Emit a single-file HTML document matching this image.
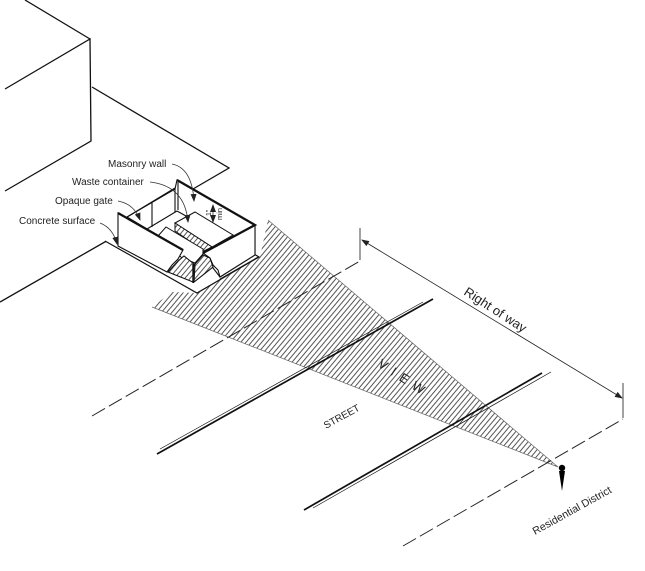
<!DOCTYPE html>
<html><head><meta charset="utf-8"><style>
html,body{margin:0;padding:0;background:#fff}
svg{display:block;filter:blur(.3px)}
text{font-family:"Liberation Sans",Arial,sans-serif;fill:#222}
</style></head><body>
<svg width="645" height="571" viewBox="0 0 645 571" xmlns="http://www.w3.org/2000/svg">
<defs>
<pattern id="h" width="4" height="4" patternUnits="userSpaceOnUse" patternTransform="rotate(-50)">
<rect width="4" height="4" fill="#fff"/><rect width="4" height="1" fill="#555"/>
</pattern>
<marker id="a" markerWidth="8" markerHeight="6" refX="7" refY="3" orient="auto-start-reverse" markerUnits="userSpaceOnUse"><path d="M0 0L8 3L0 6z" fill="#222"/></marker>
</defs>
<rect width="645" height="571" fill="#fff"/>
<polygon points="268,220 558,467 152,307 172,292 197,293 260,257" fill="url(#h)"/>
<path d="M268,220L558,467L152,307" fill="none" stroke="#666" stroke-width=".7"/>
<g fill="none" stroke="#111" stroke-width="1.3">
<path d="M25,0L90,39M5,89L90,39L91,141L5,191M92,87L229,168L193,189M117,235L0,302"/>
</g>
<!-- pad -->
<polygon points="105,241 197,293 260,257 250,235 130,215" fill="#fff"/>
<path d="M105,241L197,293L259,257L254,254" fill="none" stroke="#111" stroke-width="1.2"/>
<path d="M220,279L258,257" fill="none" stroke="#111" stroke-width=".8"/>
<!-- back walls -->
<g fill="#fff" stroke="#111" stroke-width="1.1">
<polygon points="177,180 255,225 255,255 220,277 203,255 183,250 147,229 127,217 175,189"/>
<path d="M127,217L175,188M147,229L177,211M152,203L152,227M175,189L175,212M178,182L178,210" fill="none"/>
<path d="M177,211L195,221" fill="none"/>
</g>
<!-- container -->
<g stroke="#111" stroke-width="1" fill="#fff">
<polygon points="175,223 195,212 233,235 212,247"/>
<polygon points="175,223 175,231 204,251 212,247" fill="url(#h)"/>
<polygon points="158,236 166,227 203,249 203,254 195,263 182,258"/>
</g>
<!-- post and gap -->
<g stroke="#111" stroke-width="1.1">
<polygon points="168,272 178,261 184,256 194,264 193,282" fill="url(#h)"/>
<polygon points="195,264 203,255 210,258 213,267 194,282" fill="url(#h)"/>
<path d="M193,264L193,283" fill="none" stroke-width="1.4"/>
</g>
<!-- front walls -->
<g fill="#fff" stroke="#111" stroke-width="1.1">
<path d="M118,213L183,250L178,259L172,265L167,272L118,246Z"/>
<path d="M203,253L255,225L255,255L220,277L218,270L213,265L210,258Z"/>
</g>
<g fill="none" stroke="#111" stroke-width="2.2">
<path d="M118,213L183,250M177,180L255,225L203,253"/>
</g>
<!-- leaders -->
<g fill="none" stroke="#333" stroke-width=".8">
<path d="M172,164Q192,168 194,201" marker-end="url(#a)"/>
<path d="M150,182Q185,186 188,222" marker-end="url(#a)"/>
<path d="M118,201Q134,204 140,220" marker-end="url(#a)"/>
<path d="M100,223Q113,228 117,244" marker-end="url(#a)"/>
<path d="M213,205L213,222" marker-start="url(#a)" marker-end="url(#a)"/>
</g>
<g font-size="10">
<text x="108" y="167">Masonry wall</text>
<text x="72" y="185">Waste container</text>
<text x="55" y="204">Opaque gate</text>
<text x="19" y="224">Concrete surface</text>
</g>
<text transform="translate(211,216) rotate(-90)" font-size="7">1"</text>
<text transform="translate(222,220) rotate(-90)" font-size="7.5">min</text>
<!-- road -->
<g fill="none" stroke="#111">
<path d="M157,454L433,299" stroke-width="1.7"/>
<path d="M160,449L423,302" stroke-width=".7"/>
<path d="M304,510L542,373" stroke-width="1.7"/>
<path d="M313,508L551,372" stroke-width=".7"/>
</g>
<g fill="none" stroke="#222" stroke-width="1">
<path d="M92,416L360,261" stroke-dasharray="15 4.5"/>
<path d="M403,546L623,419" stroke-dasharray="15 4.5"/>
</g>
<g fill="none" stroke="#444" stroke-width="1">
<path d="M360,228L360,260M623,383L623,418"/>
</g>
<path d="M362,240L622,398" fill="none" stroke="#222" stroke-width=".8" marker-start="url(#a)" marker-end="url(#a)"/>
<text transform="translate(463,294) rotate(33)" font-size="13">Right of way</text>
<text transform="translate(377,366) rotate(33)" font-size="13" letter-spacing="6.5">VIEW</text>
<text transform="translate(326,429) rotate(-29)" font-size="10">STREET</text>
<text transform="translate(535,535) rotate(-29)" font-size="10.7">Residential District</text>
<circle cx="562" cy="468" r="3.2" fill="#000"/>
<polygon points="559,471 565,471 562,491" fill="#000"/>
</svg>
</body></html>
